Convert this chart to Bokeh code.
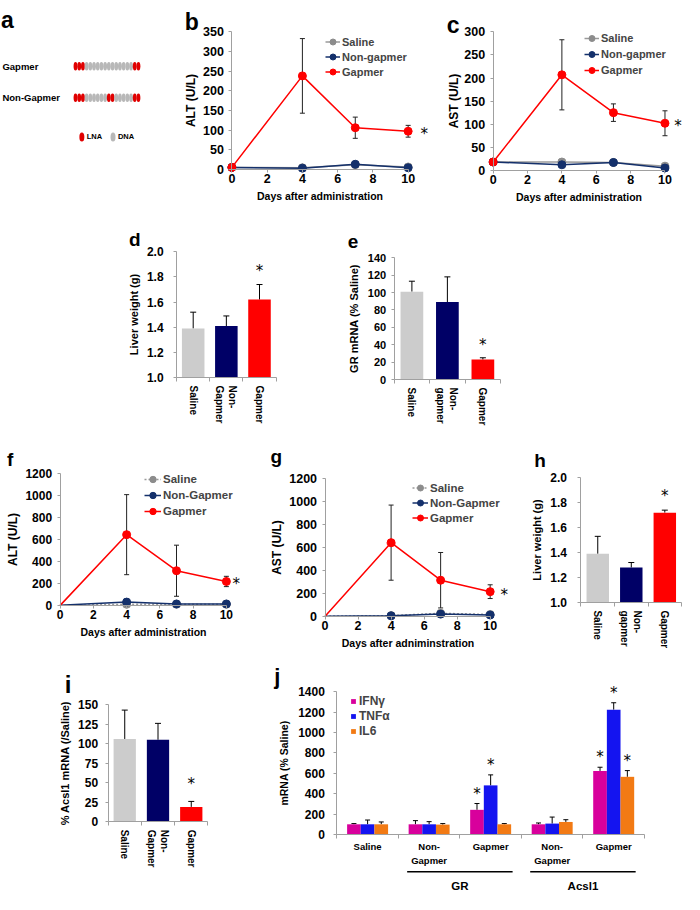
import math
from bokeh.plotting import figure
from bokeh.models import (Range1d, FixedTicker, Legend, LegendItem, Whisker,
                          TeeHead, ColumnDataSource, Spacer, PrintfTickFormatter)
from bokeh.layouts import row, column
from bokeh.embed import file_html
from bokeh.resources import INLINE
from bokeh.core.properties import value

# ---------------- data ----------------
# panel a: oligonucleotide designs (L = LNA, D = DNA)
design_names = ["Gapmer", "Non-Gapmer"]
gapmer_seq = list("LLLDDDDDDDDDDDDDLL")
nongapmer_seq = list("LLLDDDDDDLLDDDDDLL")
nucleotide_types = ["LNA", "DNA"]

# line charts
days = [0, 4, 7, 10]
line_names_1 = ["Saline", "Non-gapmer", "Gapmer"]
line_names_2 = ["Saline", "Non-Gapmer", "Gapmer"]
alt1_saline = [5, 4, 12, 6]
alt1_nongapmer = [5, 3, 13, 4]
alt1_gapmer = [5, 238, 106, 97]
alt1_gapmer_sd = [0, 95, 27, 15]
ast1_saline = [18, 18, 17, 9]
ast1_nongapmer = [18, 12, 17, 5]
ast1_gapmer = [18, 207, 125, 102]
ast1_gapmer_sd = [0, 76, 19, 27]
alt2_saline = [0, 10, 10, 10]
alt2_nongapmer = [0, 30, 13, 13]
alt2_nongapmer_sd = [0, 28, 0, 0]
alt2_gapmer = [0, 645, 316, 218]
alt2_gapmer_sd = [0, 365, 233, 47]
ast2_saline = [0, 5, 25, 15]
ast2_nongapmer = [0, 3, 18, 10]
ast2_gapmer = [0, 642, 314, 214]
ast2_gapmer_sd = [0, 328, 242, 60]

# bar charts
cats_d = ["Saline", "Non-\nGapmer", "Gapmer"]
liver1 = [1.39, 1.41, 1.62]
liver1_sd = [0.13, 0.08, 0.12]
cats_e = ["Saline", "Non-\ngapmer", "Gapmer"]
gr_mrna = [101, 89, 23]
gr_mrna_sd = [12, 29, 2]
cats_h = ["Saline", "Non-\ngapmer", "Gapmer"]
liver2 = [1.39, 1.28, 1.72]
liver2_sd = [0.14, 0.04, 0.02]
cats_i = ["Saline", "Non-\nGapmer", "Gapmer"]
acsl1_mrna = [106, 105, 19]
acsl1_mrna_sd = [37, 21, 7]

# panel j
j_categories = ["Saline", "Non-\nGapmer", "Gapmer", "Non-\nGapmer", "Gapmer"]
j_targets = ["GR", "Acsl1"]
j_target_members = [[1, 2], [3, 4]]
cytokines = ["IFNγ", "TNFα", "IL6"]
ifng = [100, 100, 242, 100, 624]
ifng_sd = [7, 36, 62, 13, 36]
tnfa = [100, 100, 482, 107, 1225]
tnfa_sd = [42, 26, 103, 64, 68]
il6 = [100, 97, 100, 123, 566]
il6_sd = [23, 10, 7, 22, 61]
j_significant = [(2, 0), (2, 1), (4, 0), (4, 1), (4, 2)]

# ---------------- style ----------------
FONT = "Liberation Sans"
AXC = "#a0a0a0"
GRAY_LINE = "#9a9a9a"
NAVY_LINE = "#14306b"
RED = "#ff0000"
BAR_COLORS = ["#cccccc", "#000066", "#ff0000"]
CYTO_COLORS = ["#d8009c", "#1414f0", "#f27a14"]
LNA_COLOR = "#e00000"
DNA_COLOR = "#b8b8b8"

SX = 684 / 700
SY = 894 / 910


def X(v):
    return int(round(v * SX))


def Y(v):
    return int(round(v * SY))


def make_panel(fr, fm, xlim, ylim, axes=True):
    """fr: figure box, fm: box of the data window xlim/ylim (reference pixels)."""
    fx0, fy0, fx1, fy1 = fr
    x0, y0, x1, y1 = fm
    kx = (xlim[1] - xlim[0]) / (x1 - x0)
    ky = (ylim[1] - ylim[0]) / (y1 - y0)
    xr = Range1d(xlim[0] - (x0 - fx0) * kx, xlim[1] + (fx1 - x1) * kx)
    yr = Range1d(ylim[0] - (fy1 - y1) * ky, ylim[1] + (y0 - fy0) * ky)
    kw = {} if axes else dict(x_axis_type=None, y_axis_type=None)
    p = figure(width=X(fx1) - X(fx0), height=Y(fy1) - Y(fy0), x_range=xr, y_range=yr,
               output_backend="svg", toolbar_location=None,
               min_border_left=0, min_border_right=0, min_border_top=0, min_border_bottom=0,
               **kw)
    p.outline_line_color = None
    p.grid.visible = False
    p.background_fill_color = "white"
    p.border_fill_color = "white"
    if axes:
        p.xaxis.fixed_location = ylim[0]
        p.xaxis.bounds = tuple(xlim)
        p.yaxis.fixed_location = xlim[0]
        p.yaxis.bounds = tuple(ylim)

    def conv(xr_, yr_):
        return xlim[0] + (xr_ - x0) * kx, ylim[0] + (y1 - yr_) * ky

    return p, conv


def style_axis(ax, tick_size, title_size, label_so, title_so, tick_out=3):
    ax.axis_line_color = AXC
    ax.major_tick_line_color = AXC
    ax.major_tick_in = 0
    ax.major_tick_out = tick_out
    ax.minor_tick_line_color = None
    ax.major_label_text_font = FONT
    ax.major_label_text_font_style = "bold"
    ax.major_label_text_font_size = f"{tick_size}px"
    ax.major_label_text_color = "black"
    ax.major_label_standoff = label_so
    ax.axis_label_text_font = FONT
    ax.axis_label_text_font_style = "bold"
    ax.axis_label_text_font_size = f"{title_size}px"
    ax.axis_label_text_color = "black"
    ax.axis_label_standoff = title_so


def txt(p, conv, text, xr, yr, size, style="bold", align="center", baseline="alphabetic"):
    x, y = conv(xr, yr)
    p.text(x=[x], y=[y], text=[text], text_font=value(FONT), text_font_size=f"{size}px",
           text_font_style=style, text_align=align, text_baseline=baseline, text_color="black")


def star(p, x, y, x_off=0, y_up=0, size=15):
    p.text(x=[x], y=[y], text=["*"], x_offset=x_off, y_offset=-y_up,
           text_font=value("DejaVu Sans"), text_font_size=f"{size}px",
           text_align="center", text_baseline="middle", text_color="black")


def errorbars(p, xs, vals, sds, both, head=5, color="black"):
    idx = [i for i in range(len(xs)) if sds[i] > 0]
    if not idx:
        return
    src = ColumnDataSource(dict(x=[xs[i] for i in idx],
                                lo=[vals[i] - sds[i] if both else vals[i] for i in idx],
                                hi=[vals[i] + sds[i] for i in idx]))
    p.add_layout(Whisker(base="x", lower="lo", upper="hi", source=src, dimension="height",
                         line_color=color, line_width=1,
                         upper_head=TeeHead(size=head, line_color=color, line_width=1),
                         lower_head=TeeHead(size=head, line_color=color, line_width=1) if both else None))


def add_legend(p, fr, items, left_ref, bottom_ref, item_h, glyph_w, glyph_h, font_size, standoff=2):
    lh = int(round(item_h * SY))
    leg = Legend(items=items, location=(X(left_ref) - X(fr[0]), Y(fr[3]) - Y(bottom_ref)),
                 orientation="vertical", padding=0, spacing=0, margin=0,
                 label_height=lh, glyph_height=glyph_h if glyph_h else lh, glyph_width=glyph_w,
                 label_standoff=standoff, border_line_color=None, background_fill_alpha=0,
                 label_text_font=FONT, label_text_font_style="bold",
                 label_text_font_size=f"{font_size}px")
    p.add_layout(leg)


def line_chart(fr, fm, ymax, ystep, ytitle, xtitle, names, series, sds, colors, dashes,
               leg_left, leg_first_y, leg_step, leg_glyph_w, leg_font, tick_size,
               y_title_so, x_title_so, star_dx, skip_first_marker):
    p, conv = make_panel(fr, fm, (0, 10), (0, ymax))
    style_axis(p.xaxis[0], tick_size, 10.5, 2, x_title_so)
    style_axis(p.yaxis[0], tick_size, 12, 5, y_title_so)
    p.xaxis.ticker = FixedTicker(ticks=[0, 2, 4, 6, 8, 10])
    p.yaxis.ticker = FixedTicker(ticks=list(range(0, ymax + 1, ystep)))
    p.xaxis.axis_label = xtitle
    p.yaxis.axis_label = ytitle
    items = []
    s0 = 1 if skip_first_marker else 0
    for name, vals, sd, col, dash in zip(names, series, sds, colors, dashes):
        rl = p.line(days, vals, line_color=col, line_width=1.5, line_dash=dash)
        if sd is not None:
            errorbars(p, days, vals, sd, both=True, head=5, color="#222222")
        mc = "#8c8c8c" if col == GRAY_LINE else col
        rs = p.scatter(days[s0:], vals[s0:], size=8, fill_color=mc, line_color=mc)
        items.append(LegendItem(label=name, renderers=[rl, rs]))
    n = len(items)
    add_legend(p, fr, items, leg_left, leg_first_y + leg_step * (n - 1) + leg_step / 2,
               leg_step, leg_glyph_w, None, leg_font)
    star(p, 10, series[2][-1], x_off=star_dx, y_up=-3)
    return p, conv


def bar_chart(fr, fm, cats, vals, sds, ymin, ymax, yticks, yfmt, ytitle, bar_w, tick_size,
              label_so, title_so, star_off, cat_size=10):
    n = len(cats)
    p, conv = make_panel(fr, fm, (0, n), (ymin, ymax))
    xs = [i + 0.5 for i in range(n)]
    p.vbar(x=xs, top=vals, bottom=ymin, width=bar_w, fill_color=BAR_COLORS, line_color=None)
    errorbars(p, xs, vals, sds, both=False, head=6)
    style_axis(p.xaxis[0], cat_size, 11, 4, 2)
    style_axis(p.yaxis[0], tick_size, 11, label_so, title_so)
    p.xaxis.ticker = FixedTicker(ticks=xs, minor_ticks=list(range(n + 1)))
    p.xaxis.major_label_overrides = dict(zip(xs, cats))
    p.xaxis.major_label_orientation = "vertical"
    p.xaxis.major_tick_out = 0
    p.xaxis.minor_tick_out = 4
    p.xaxis.minor_tick_in = 0
    p.xaxis.minor_tick_line_color = AXC
    p.yaxis.ticker = FixedTicker(ticks=yticks)
    if yfmt:
        p.yaxis.formatter = PrintfTickFormatter(format=yfmt)
    p.yaxis.axis_label = ytitle
    star(p, xs[2], vals[2] + sds[2], y_up=star_off)
    return p, conv


# ---------------- panel a ----------------
FR_A = (0, 0, 155, 218)
BEAD = 3.8
pa, ca = make_panel(FR_A, (77, 67, 77 + 17 * BEAD, 99), (0, 17), (0, 1), axes=False)
for r, seq in enumerate([gapmer_seq, nongapmer_seq]):
    cols = [LNA_COLOR if s == "L" else DNA_COLOR for s in seq]
    yrow = len(design_names) - 1 - r
    pa.ellipse(x=list(range(len(seq))), y=[yrow] * len(seq), width=1.05, height=8.5,
               height_units="screen", fill_color=cols, line_color=None)
    txt(pa, ca, design_names[r], 2, 67 + 32 * r, 9.5, align="left", baseline="middle")
key_x = [83.5, 115.5]
for kx_, name, col in zip(key_x, nucleotide_types, [LNA_COLOR, DNA_COLOR]):
    ex, ey = ca(kx_, 139)
    pa.ellipse(x=[ex], y=[ey], width=1.35, height=9, height_units="screen",
               fill_color=col, line_color=None)
    txt(pa, ca, name, kx_ + 5, 139, 7.5, align="left", baseline="middle")
txt(pa, ca, "a", 7, 20, 23)

# ---------------- panel b, c ----------------
FR_B = (160, 0, 448, 218)
pb, cb = line_chart(FR_B, (237, 32, 417, 172), 350, 50, "ALT (U/L)", "Days after administration",
                    line_names_1, [alt1_saline, alt1_nongapmer, alt1_gapmer],
                    [None, None, alt1_gapmer_sd], [GRAY_LINE, NAVY_LINE, RED], ["solid"] * 3,
                    333, 43, 15, 15, 11, 12.5, 2, 3, 16, False)
txt(pb, cb, "b", 196, 22, 23)

FR_C = (448, 0, 700, 218)
pc, cc = line_chart(FR_C, (504, 32, 680, 173), 300, 50, "AST (U/L)", "Days after administration",
                    line_names_1, [ast1_saline, ast1_nongapmer, ast1_gapmer],
                    [None, None, ast1_gapmer_sd], [GRAY_LINE, NAVY_LINE, RED], ["solid"] * 3,
                    598, 39, 16, 15, 11, 12.5, 1, 3, 13, False)
txt(pc, cc, "c", 463, 25, 23)

# ---------------- panel d, e ----------------
pd_, cd = bar_chart((105, 218, 345, 444), (180, 256, 282, 384), cats_d, liver1, liver1_sd, 1.0, 2.0,
                    [1.0, 1.2, 1.4, 1.6, 1.8, 2.0], "%.1f", "Liver weight (g)", 0.68, 12, 10, 4, 14)
txt(pd_, cd, "d", 137, 243, 19)

pe, ce = bar_chart((345, 218, 560, 444), (403, 262, 512, 386), cats_e, gr_mrna, gr_mrna_sd, 0, 140,
                   [0, 20, 40, 60, 80, 100, 120, 140], None, "GR mRNA (% Saline)", 0.64, 11, 5, 5, 13)
txt(pe, ce, "e", 361, 245, 19)

# ---------------- panel f, g, h ----------------
FR_F = (0, 444, 270, 664)
pf, cf = line_chart(FR_F, (61, 482, 231, 616), 1200, 200, "ALT (U/L)", "Days after administration",
                    line_names_2, [alt2_saline, alt2_nongapmer, alt2_gapmer],
                    [None, alt2_nongapmer_sd, alt2_gapmer_sd], [GRAY_LINE, NAVY_LINE, RED],
                    ["2 2", "solid", "solid"], 147, 488, 16, 17, 11.5, 12, 3, 3, 10, True)
txt(pf, cf, "f", 10, 467, 19)

FR_G = (270, 444, 530, 664)
pg, cg = line_chart(FR_G, (332, 487, 501, 627), 1200, 200, "AST (U/L)", "Days after adniminstration",
                    line_names_2, [ast2_saline, ast2_nongapmer, ast2_gapmer],
                    [None, None, ast2_gapmer_sd], [GRAY_LINE, NAVY_LINE, RED],
                    ["2 2", "solid", "solid"], 422, 496, 15.5, 16, 11.5, 12.5, 3, 3, 14, True)
txt(pg, cg, "g", 282, 464, 19)

ph, ch = bar_chart((530, 444, 700, 664), (594, 486, 697, 613), cats_h, liver2, liver2_sd, 1.0, 2.0,
                   [1.0, 1.2, 1.4, 1.6, 1.8, 2.0], "%.1f", "Liver weight (g)", 0.67, 12, 11, 4, 14)
txt(ph, ch, "h", 552, 468, 19)

# ---------------- panel i ----------------
pi_, ci_ = bar_chart((0, 664, 230, 910), (110, 717, 212, 836), cats_i, acsl1_mrna, acsl1_mrna_sd,
                     0, 150, [0, 25, 50, 75, 100, 125, 150], None, "% Acsl1 mRNA (/Saline)",
                     0.67, 12, 7, 4, 17)
txt(pi_, ci_, "i", 69, 697, 24)

# ---------------- panel j ----------------
FR_J = (230, 664, 700, 910)
nj = len(j_categories)
pj, cj = make_panel(FR_J, (344, 704, 659, 849), (0, nj), (0, 1400))
bw = 0.222
offsets = [-bw, 0, bw]
jitems = []
jvals = [ifng, tnfa, il6]
jsds = [ifng_sd, tnfa_sd, il6_sd]
for k, (name, vals, sds, col) in enumerate(zip(cytokines, jvals, jsds, CYTO_COLORS)):
    xs = [i + 0.5 + offsets[k] for i in range(nj)]
    r = pj.vbar(x=xs, top=vals, width=bw, fill_color=col, line_color=None)
    errorbars(pj, xs, vals, sds, both=False, head=5)
    jitems.append(LegendItem(label=name, renderers=[r]))
for ci, k in j_significant:
    star(pj, ci + 0.5 + offsets[k], jvals[k][ci] + jsds[k][ci], y_up=10)
style_axis(pj.xaxis[0], 9.5, 11, 3, 2)
style_axis(pj.yaxis[0], 12, 10.5, 9, 5)
jxs = [i + 0.5 for i in range(nj)]
pj.xaxis.ticker = FixedTicker(ticks=jxs, minor_ticks=list(range(nj + 1)))
pj.xaxis.major_label_overrides = dict(zip(jxs, j_categories))
pj.xaxis.major_tick_out = 0
pj.xaxis.minor_tick_out = 4
pj.xaxis.minor_tick_in = 0
pj.xaxis.minor_tick_line_color = AXC
pj.yaxis.ticker = FixedTicker(ticks=list(range(0, 1401, 200)))
pj.yaxis.axis_label = "mRNA (% Saline)"
add_legend(pj, FR_J, jitems, 358, 751, 15.5, 6, 6, 12, standoff=3)
txt(pj, cj, "j", 283, 688, 22)

# target groups under the categories
g_centers = [(min(m) + max(m) + 1) / 2 for m in j_target_members]
_, line_y = cj(0, 887)
_, lab_y = cj(0, 901)
pj.segment(x0=[c - 0.857 for c in g_centers], x1=[c + 0.857 for c in g_centers],
           y0=[line_y] * len(g_centers), y1=[line_y] * len(g_centers),
           line_color="black", line_width=1.5)
pj.text(x=g_centers, y=[lab_y] * len(g_centers), text=j_targets, text_font=value(FONT),
        text_font_size="11.5px", text_font_style="bold", text_align="center",
        text_baseline="middle", text_color="black")

# ---------------- layout ----------------
band1 = row(pa, Spacer(width=X(160) - X(155), height=10), pb, pc)
band2 = row(Spacer(width=X(105), height=10), pd_, pe)
band3 = row(pf, pg, ph)
band4 = row(pi_, pj)
layout = column(band1, band2, band3, band4)

open("out.html", "w").write(file_html(layout, INLINE))
